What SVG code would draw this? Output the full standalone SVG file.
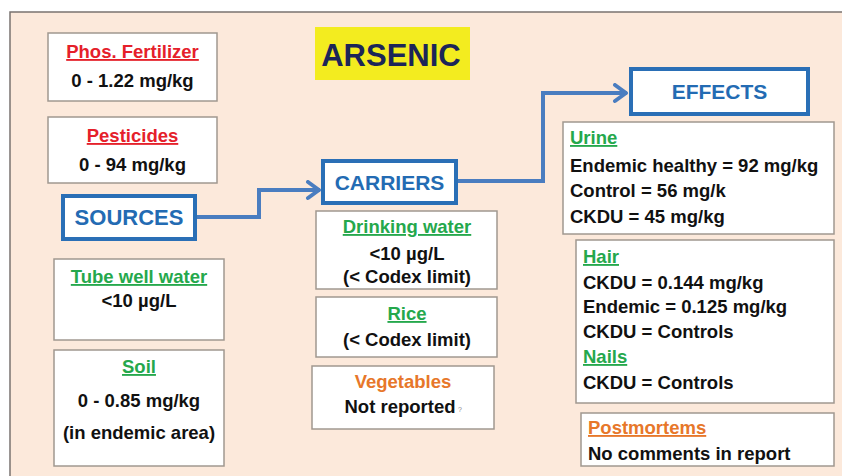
<svg xmlns="http://www.w3.org/2000/svg" width="842" height="476" viewBox="0 0 842 476">
<defs>
<style>
text{font-family:"Liberation Sans",Arial,sans-serif;font-weight:bold;}
.box{fill:#fff;stroke:#a09890;stroke-width:1.5;}
.key{fill:#fff;stroke:#2a6fb6;stroke-width:4;}
.keyt{fill:#236bb3;font-size:22px;text-anchor:middle;}
.c{text-anchor:middle;}
.v{fill:#111;font-size:18.5px;}
.red{fill:#e5202a;font-size:18.5px;text-decoration:underline;}
.grn{fill:#25a84c;font-size:18.5px;text-decoration:underline;}
.org{fill:#e7772a;font-size:18.5px;}
.conn{fill:none;stroke:#4a7dc0;stroke-width:4;}
</style>
<marker id="arr" markerUnits="userSpaceOnUse" markerWidth="20" markerHeight="22" refX="16" refY="10" orient="auto">
<path d="M4,2 L15,10 L4,18" fill="none" stroke="#4a7dc0" stroke-width="4" stroke-linecap="round" stroke-linejoin="round"/>
</marker>
</defs>
<rect x="0" y="0" width="842" height="476" fill="#ffffff"/>
<rect x="10" y="12" width="840" height="475" fill="#fce9db" stroke="#7a7370" stroke-width="1.5"/>

<g id="connectors">
<path class="conn" d="M195,217 H259 V190 H320" marker-end="url(#arr)"/>
<path class="conn" d="M456,181 H543 V93 H627" marker-end="url(#arr)"/>
</g>

<g id="title">
<rect x="315" y="27" width="155" height="53" fill="#f3ec1f"/>
<text x="391" y="66" class="c" style="font-size:31px;fill:#1c2558;">ARSENIC</text>
</g>

<g id="phos">
<rect class="box" x="48" y="33" width="169" height="68"/>
<text x="132.5" y="58" class="c red">Phos. Fertilizer</text>
<text x="132.5" y="87" class="c v">0 - 1.22 mg/kg</text>
</g>

<g id="pesticides">
<rect class="box" x="48" y="117" width="169" height="66"/>
<text x="132.5" y="142" class="c red">Pesticides</text>
<text x="132.5" y="171" class="c v">0 - 94 mg/kg</text>
</g>

<g id="sources">
<rect class="key" x="63" y="196" width="132" height="43"/>
<text x="129" y="225" class="keyt">SOURCES</text>
</g>

<g id="tubewell">
<rect class="box" x="54" y="259" width="170" height="81"/>
<text x="139" y="283" class="c grn">Tube well water</text>
<text x="139" y="307" class="c v">&lt;10 µg/L</text>
</g>

<g id="soil">
<rect class="box" x="54" y="350" width="170" height="116"/>
<text x="139" y="373" class="c grn">Soil</text>
<text x="139" y="407" class="c v">0 - 0.85 mg/kg</text>
<text x="139" y="439" class="c v">(in endemic area)</text>
</g>

<g id="carriers">
<rect class="key" x="323" y="161" width="133" height="42"/>
<text x="389.5" y="190" class="keyt" style="font-size:21px;">CARRIERS</text>
</g>

<g id="drinking">
<rect class="box" x="316" y="211" width="181" height="78"/>
<text x="407" y="233" class="c grn">Drinking water</text>
<text x="407" y="260" class="c v">&lt;10 µg/L</text>
<text x="407" y="283" class="c v">(&lt; Codex limit)</text>
</g>

<g id="rice">
<rect class="box" x="316" y="297" width="181" height="60"/>
<text x="407" y="320" class="c grn">Rice</text>
<text x="407" y="346" class="c v">(&lt; Codex limit)</text>
</g>

<g id="vegetables">
<rect class="box" x="312" y="366" width="182" height="63"/>
<text x="403" y="388" class="c org">Vegetables</text>
<text x="400" y="413" class="c v">Not reported</text>
<text x="458" y="412" style="font-size:7px;fill:#888;font-weight:normal;">?</text>
</g>

<g id="effects">
<rect class="key" x="631" y="69" width="177" height="45"/>
<text x="719.5" y="99" class="keyt" style="font-size:21px;">EFFECTS</text>
</g>

<g id="urine">
<rect class="box" x="563" y="122" width="271" height="112"/>
<text x="570" y="144" class="grn">Urine</text>
<text x="570" y="172" class="v">Endemic healthy = 92 mg/kg</text>
<text x="570" y="197" class="v">Control = 56 mg/k</text>
<text x="570" y="223" class="v">CKDU = 45 mg/kg</text>
</g>

<g id="hair">
<rect class="box" x="576" y="240" width="258" height="163"/>
<text x="583" y="263" class="grn">Hair</text>
<text x="583" y="289" class="v">CKDU = 0.144 mg/kg</text>
<text x="583" y="313" class="v">Endemic = 0.125 mg/kg</text>
<text x="583" y="338" class="v">CKDU = Controls</text>
<text x="583" y="363" class="grn">Nails</text>
<text x="583" y="389" class="v">CKDU = Controls</text>
</g>

<g id="postmortems">
<rect class="box" x="581" y="413" width="253" height="53"/>
<text x="588" y="434" class="org" style="text-decoration:underline;">Postmortems</text>
<text x="588" y="460" class="v">No comments in report</text>
</g>
</svg>
